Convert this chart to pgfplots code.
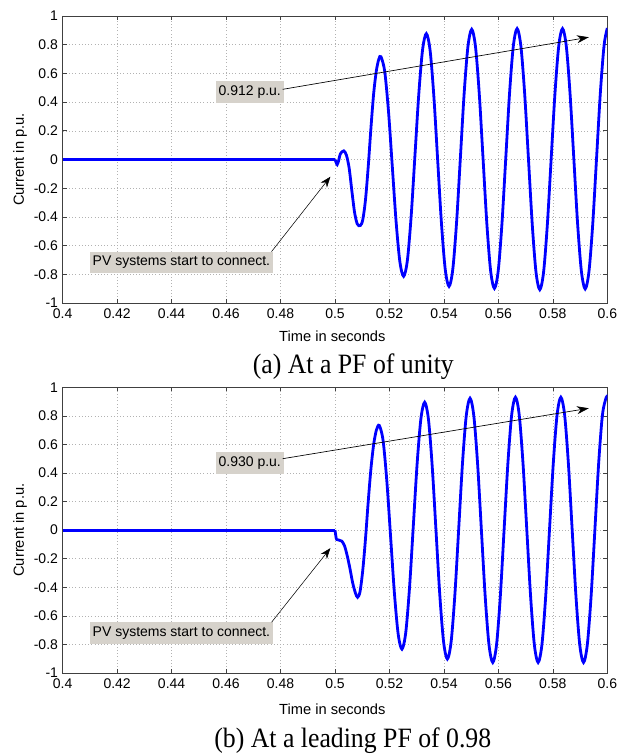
\documentclass[border=0pt]{standalone}
\usepackage{fontspec}
\setmainfont{Liberation Sans}
\newfontfamily\capfont[FakeStretch=0.92]{Liberation Serif}
\usepackage{pgfplots}
\pgfplotsset{compat=1.18}
\usetikzlibrary{arrows.meta}
\definecolor{boxgrey}{RGB}{214,210,203}
\tikzset{annot/.style={fill=boxgrey, inner xsep=2pt, inner ysep=3.5pt, font=\fontsize{10.5pt}{12pt}\selectfont}}
\pgfplotsset{
  matstyle/.style={
    scale only axis,
    width=408.5pt,
    xmin=0.4, xmax=0.6, ymin=-1, ymax=1,
    xtick={0.4,0.42,0.44,0.46,0.48,0.5,0.52,0.54,0.56,0.58,0.6},
    xticklabels={0.4,0.42,0.44,0.46,0.48,0.5,0.52,0.54,0.56,0.58,0.6},
    ytick={-1,-0.8,-0.6,-0.4,-0.2,0,0.2,0.4,0.6,0.8,1},
    yticklabels={-1,-0.8,-0.6,-0.4,-0.2,0,0.2,0.4,0.6,0.8,1},
    tick align=inside,
    major tick length=3pt,
    tick style={black!75, line width=0.5pt},
    axis line style={black!75, line width=0.6pt},
    grid=major,
    major grid style={dotted, black!30, line width=0.4pt},
    tick label style={font=\fontsize{10.5pt}{12pt}\selectfont},
    /pgf/number format/assume math mode=true,
    xticklabel style={yshift=-1pt},
    label style={font=\fontsize{11pt}{13pt}\selectfont},
    ylabel={Current in p.u.},
    ylabel style={at={(axis description cs:-0.0783,0.5)}, anchor=center},
    xlabel={Time in seconds},
    clip=true,
  },
}
\begin{document}
\begin{tikzpicture}
\path[use as bounding box] (0,0) rectangle (465pt,565.5pt);

% ---------------- (a) ----------------
\begin{axis}[matstyle, height=215.25pt, at={(47pt,338.25pt)}, anchor=south west,
  xlabel style={at={(axis description cs:0.5,0)}, anchor=base, yshift=-29pt, xshift=-2pt}]
\addplot[blue, line width=2.1pt] coordinates {(0.4,0) (0.5,0)};
\addplot[blue, line width=2.1pt, smooth] coordinates {
(0.5,0) (0.5004,-0.02) (0.5008,-0.035) (0.5013,-0.01) (0.5020,0.04) (0.5032,0.06)
(0.5042,0.03) (0.5052,-0.06) (0.5062,-0.22) (0.5072,-0.37) (0.5082,-0.45) (0.5093,-0.46)
(0.5102,-0.42) (0.5112,-0.28) (0.5122,-0.05) (0.5132,0.22) (0.5142,0.46) (0.5152,0.62)
(0.5161,0.70) (0.51687,0.716)
(0.51826,0.613) (0.51965,0.334) (0.52104,-0.049) (0.52243,-0.432) (0.52381,-0.711) (0.52520,-0.814)
(0.52659,-0.701) (0.52798,-0.391) (0.52937,0.032) (0.53076,0.454) (0.53215,0.764) (0.53354,0.877)
(0.53493,0.759) (0.53631,0.437) (0.53770,-0.004) (0.53909,-0.444) (0.54048,-0.766) (0.54187,-0.884)
(0.54326,-0.764) (0.54465,-0.436) (0.54604,0.012) (0.54742,0.459) (0.54881,0.787) (0.55020,0.907)
(0.55159,0.786) (0.55298,0.456) (0.55437,0.005) (0.55576,-0.447) (0.55715,-0.777) (0.55854,-0.898)
(0.55993,-0.777) (0.56131,-0.446) (0.56270,0.007) (0.56409,0.460) (0.56548,0.791) (0.56687,0.912)
(0.56826,0.790) (0.56965,0.457) (0.57104,0.003) (0.57243,-0.452) (0.57381,-0.785) (0.57520,-0.907)
(0.57659,-0.785) (0.57798,-0.452) (0.57937,0.003) (0.58076,0.457) (0.58215,0.790) (0.58354,0.912)
(0.58493,0.790) (0.58631,0.459) (0.58770,0.005) (0.58909,-0.449) (0.59048,-0.780) (0.59187,-0.902)
(0.59326,-0.780) (0.59465,-0.447) (0.59604,0.008) (0.59743,0.463) (0.59881,0.796) (0.60000,0.916)
};
\node[annot] at (axis cs:0.4687,0.470) {0.912 p.u.};
\draw[line width=0.5pt, -{Stealth[length=9pt,width=6pt]}] (axis cs:0.4808,0.489) -- (axis cs:0.5932,0.852);
\node[annot] at (axis cs:0.4436,-0.718) {PV systems start to connect.};
\draw[line width=0.4pt, -{Stealth[length=8pt,width=6pt]}] (axis cs:0.4767,-0.642) -- (axis cs:0.4983,-0.12);
\end{axis}

% ---------------- (b) ----------------
\begin{axis}[matstyle, height=214.3pt, at={(47pt,60.75pt)}, anchor=south west,
  xlabel style={at={(axis description cs:0.5,0)}, anchor=base, yshift=-31.5pt, xshift=-2pt}]
\addplot[blue, line width=2.1pt] coordinates {(0.4,0) (0.5,0)};
\addplot[blue, line width=2.1pt, smooth] coordinates {
(0.5,0) (0.5003,-0.04) (0.5006,-0.065) (0.5015,-0.07) (0.5025,-0.077) (0.5035,-0.11)
(0.5045,-0.18) (0.5055,-0.27) (0.5065,-0.37) (0.5075,-0.44) (0.5083,-0.47) (0.5092,-0.43)
(0.5102,-0.28) (0.5112,-0.06) (0.5122,0.20) (0.5132,0.43) (0.5142,0.60) (0.5152,0.70)
(0.51626,0.733)
(0.51765,0.628) (0.51904,0.342) (0.52043,-0.050) (0.52182,-0.442) (0.52320,-0.728) (0.52459,-0.833)
(0.52598,-0.717) (0.52737,-0.401) (0.52876,0.031) (0.53015,0.463) (0.53154,0.779) (0.53293,0.895)
(0.53432,0.775) (0.53570,0.446) (0.53709,-0.004) (0.53848,-0.453) (0.53987,-0.782) (0.54126,-0.902)
(0.54265,-0.780) (0.54404,-0.446) (0.54543,0.011) (0.54681,0.467) (0.54820,0.801) (0.54959,0.923)
(0.55098,0.799) (0.55237,0.461) (0.55376,-0.002) (0.55515,-0.464) (0.55654,-0.802) (0.55793,-0.926)
(0.55932,-0.802) (0.56071,-0.462) (0.56209,0.002) (0.56348,0.466) (0.56487,0.806) (0.56626,0.930)
(0.56765,0.806) (0.56904,0.466) (0.57043,0.002) (0.57182,-0.462) (0.57320,-0.802) (0.57459,-0.926)
(0.57598,-0.802) (0.57737,-0.462) (0.57876,0.002) (0.58015,0.466) (0.58154,0.806) (0.58293,0.930)
(0.58432,0.806) (0.58570,0.466) (0.58709,0.002) (0.58848,-0.462) (0.58987,-0.802) (0.59126,-0.926)
(0.59265,-0.802) (0.59404,-0.462) (0.59543,0.002) (0.59681,0.466) (0.59820,0.806) (0.59959,0.930)
(0.60000,0.929)
};
\node[annot] at (axis cs:0.4687,0.468) {0.930 p.u.};
\draw[line width=0.5pt, -{Stealth[length=9pt,width=6pt]}] (axis cs:0.4808,0.50) -- (axis cs:0.5932,0.853);
\node[annot] at (axis cs:0.4436,-0.722) {PV systems start to connect.};
\draw[line width=0.4pt, -{Stealth[length=8pt,width=6pt]}] (axis cs:0.4767,-0.645) -- (axis cs:0.4983,-0.126);
\end{axis}

\node[anchor=base, font=\capfont\fontsize{21pt}{24pt}\selectfont] at (265pt,285pt) {(a) At a PF of unity};
\node[anchor=base, font=\capfont\fontsize{21pt}{24pt}\selectfont] at (264.6pt,4.6pt) {(b) At a leading PF of 0.98};
\end{tikzpicture}
\end{document}
